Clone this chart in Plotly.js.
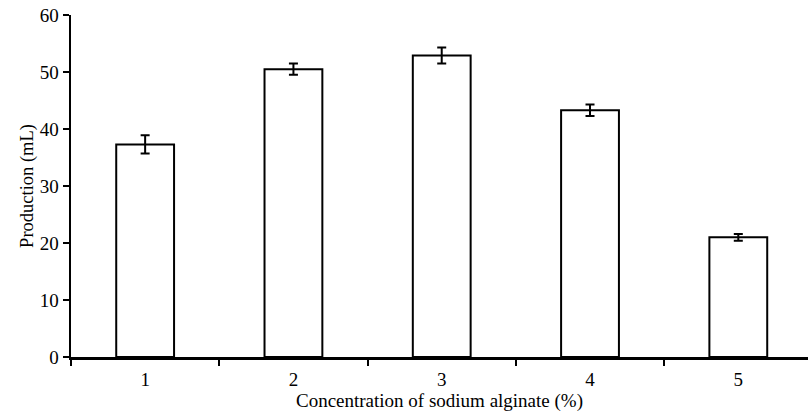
<!DOCTYPE html>
<html><head><meta charset="utf-8">
<script src="https://cdn.plot.ly/plotly-3.0.1.min.js"></script>
<style>html,body{margin:0;padding:0;background:#fff}#c{width:808px;height:414px}</style>
</head><body><div id="c"></div>
<script>
const categories = ["1", "2", "3", "4", "5"];
const production = [37.3, 50.5, 52.9, 43.3, 21.0];
const errors = [1.6, 1.0, 1.4, 1.0, 0.6];
const yTicks = [0, 10, 20, 30, 40, 50, 60];

const trace = {
  type: "bar", x: categories, y: production, width: 0.39,
  marker: {color: "#ffffff", line: {color: "#000", width: 2}},
  error_y: {type: "data", array: errors, visible: true, color: "#000", thickness: 2, width: 4.5}
};
const fam = "Liberation Serif, Times New Roman, serif";
const layout = {
  width: 808, height: 414,
  margin: {l: 71, r: 0, t: 15, b: 57},
  paper_bgcolor: "#fff", plot_bgcolor: "#fff",
  showlegend: false,
  font: {family: fam, color: "#000"},
  xaxis: {
    type: "category", range: [-0.5, 4.47], tickson: "boundaries",
    ticks: "outside", ticklen: 6, tickwidth: 2, tickcolor: "#000",
    showline: true, linecolor: "#000", linewidth: 2.5, showgrid: false, zeroline: false,
    ticklabelstandoff: 4,
    tickfont: {family: fam, size: 19, color: "#000"},
    title: {text: "Concentration of sodium alginate (%)", font: {family: fam, size: 19, color: "#000"}, standoff: 0}
  },
  yaxis: {
    range: [0, 60], tickvals: yTicks, ticks: "outside", ticklen: 6, tickwidth: 2, tickcolor: "#000",
    showline: true, linecolor: "#000", linewidth: 2.5, showgrid: false, zeroline: false,
    tickfont: {family: fam, size: 19, color: "#000"},
    title: {text: "Production (mL)", font: {family: fam, size: 18.5, color: "#000"}, standoff: 1}
  }
};
Plotly.newPlot("c", [trace], layout, {displayModeBar: false, staticPlot: true});
</script></body></html>
